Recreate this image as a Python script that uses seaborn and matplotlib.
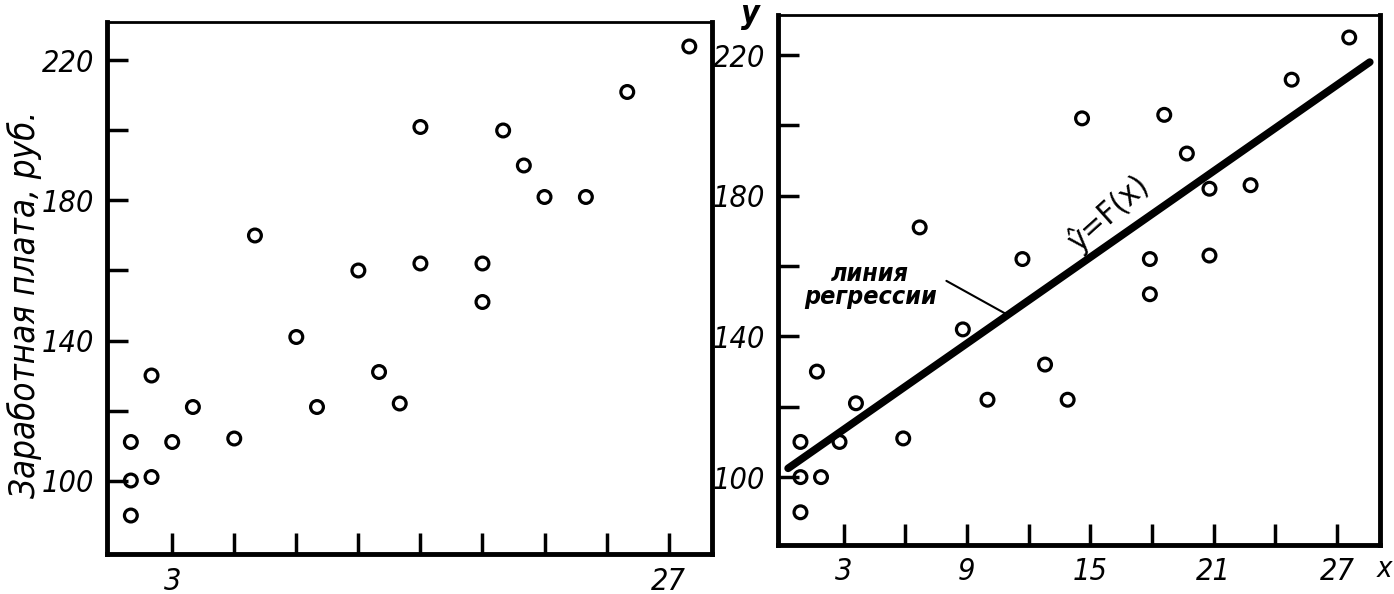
import numpy as np
import matplotlib.pyplot as plt
import seaborn as sns
import pandas as pd

sns.set_style("white")
plt.rcParams['font.family'] = ['DejaVu Sans']
plt.rcParams['font.stretch'] = 'condensed'
plt.rcParams['text.color'] = 'black'

# left panel: observed points
left_x = [1, 1, 1, 2, 2, 3, 4, 6, 7, 9, 10, 12, 13, 14, 15, 15, 18, 18, 19, 20, 21, 23, 25, 28]
left_y = [90, 100, 111, 101, 130, 111, 121, 112, 170, 141, 121, 160, 131, 122, 201, 162, 151, 162, 200, 190, 181, 181, 211, 224]

# right panel: same points with regression line
right_x = [0.9, 0.9, 0.9, 1.9, 1.7, 2.8, 3.6, 5.9, 6.7, 8.8, 10, 11.7, 12.8, 13.9, 14.6,
           17.9, 17.9, 18.6, 19.7, 20.8, 20.8, 22.8, 24.8, 27.6]
right_y = [90, 100, 110, 100, 130, 110, 121, 111, 171, 142, 122, 162, 132, 122, 202,
           152, 162, 203, 192, 182, 163, 183, 213, 225]
reg_x = [0.3, 28.6]
reg_y = [102.5, 218]

x_ticks = [3, 6, 9, 12, 15, 18, 21, 24, 27]
left_xlabels = ["3", "", "", "", "", "", "", "", "27"]
right_xlabels = ["3", "", "9", "", "15", "", "21", "", "27"]
y_ticks = [100, 120, 140, 160, 180, 200, 220]
y_labels = ["100", "", "140", "", "180", "", "220"]

fig = plt.figure(figsize=(13.94, 5.94), dpi=100)
ax1 = fig.add_axes([0.0768, 0.0673, 0.434, 0.8957])
ax2 = fig.add_axes([0.558, 0.0825, 0.432, 0.8923])

pts_left = pd.DataFrame({"x": left_x, "y": left_y})
pts_right = pd.DataFrame({"x": right_x, "y": right_y})

for ax, df, xl in [(ax1, pts_left, left_xlabels), (ax2, pts_right, right_xlabels)]:
    sns.scatterplot(data=df, x="x", y="y", ax=ax, marker="o", s=85,
                    facecolor="none", edgecolor="black", linewidth=2.3, zorder=3)
    ax.set_xticks(x_ticks)
    ax.set_xticklabels(xl)
    ax.set_yticks(y_ticks)
    ax.set_yticklabels(y_labels)
    ax.tick_params(direction="in", length=15, width=2.5, labelsize=22, pad=9,
                   colors="black", bottom=True, left=True)
    for lab in ax.get_xticklabels() + ax.get_yticklabels():
        lab.set_fontstyle("italic")
    for s in ["left", "bottom", "right"]:
        ax.spines[s].set_linewidth(3.5)
        ax.spines[s].set_color("black")
    ax.spines["top"].set_linewidth(2)
    ax.spines["top"].set_color("black")
    ax.set_xlabel("")
    ax.set_ylabel("")

ax1.set_xlim(-0.15, 29.1)
ax1.set_ylim(79, 231)
ax2.set_xlim(-0.2, 29.1)
ax2.set_ylim(80.7, 231.4)

ax1.set_ylabel("Заработная плата, руб.", fontsize=25, fontstyle="italic", color="black")
ax1.yaxis.set_label_coords(-0.108, 0.47)

# regression line
sns.lineplot(x=reg_x, y=reg_y, ax=ax2, color="black", linewidth=5.5)
ax2.text(4.3, 154.5, "линия\nрегрессии", fontsize=18, fontweight="bold",
         fontstyle="italic", ha="center", va="center", linespacing=0.95)
ax2.plot([8.0, 10.9], [155.8, 146.4], color="black", linewidth=1.5)
ax2.text(15.9, 175.0, "ŷ=F(x)", fontsize=23, rotation=42,
         ha="center", va="center")
ax2.text(-0.045, 1.0, "y", transform=ax2.transAxes, fontsize=23,
         fontweight="bold", fontstyle="italic", ha="center", va="center")
ax2.text(1.008, -0.045, "x", transform=ax2.transAxes, fontsize=21,
         fontstyle="italic", ha="center", va="center")

plt.savefig("out.png", dpi=100)
